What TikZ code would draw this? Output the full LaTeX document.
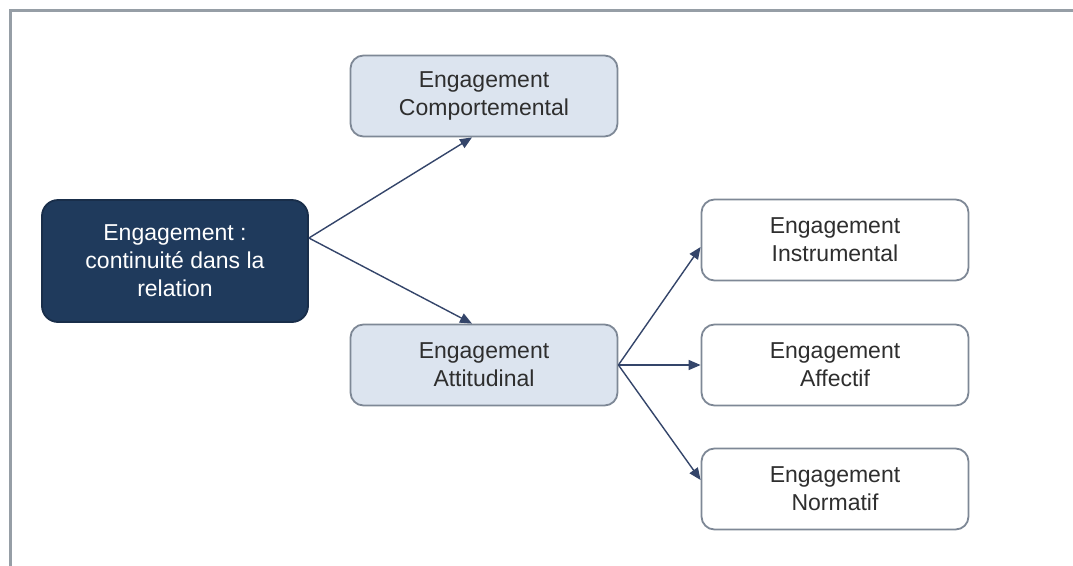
\documentclass[tikz,border=0pt]{standalone}
\usepackage{fontspec}
\setmainfont{Liberation Sans}
\usetikzlibrary{arrows.meta}
\definecolor{navy}{HTML}{1F3A5C}
\definecolor{lightfill}{HTML}{DCE4EF}
\definecolor{boxline}{HTML}{7E8896}
\definecolor{arrowc}{HTML}{34456A}
\definecolor{framec}{HTML}{969EA6}
\definecolor{txt}{HTML}{2E2E2E}
\tikzset{
  box/.style={draw=boxline, line width=1.8pt, rounded corners=13pt, minimum width=267pt, minimum height=81pt,
    align=center, font=\fontsize{23}{28}\selectfont, text=txt, inner sep=0pt},
  lightbox/.style={box, fill=lightfill},
  whitebox/.style={box, fill=white},
  darkbox/.style={box, fill=navy, draw=navy!80!black, text=white, minimum width=266pt, minimum height=122pt, rounded corners=16pt},
  conn/.style={draw=arrowc, line width=1.4pt, -{Triangle[length=12pt,width=10pt]}}
}
\begin{document}
\begin{tikzpicture}[x=1pt,y=-1pt]
\useasboundingbox (0,0) rectangle (1073,565);
\fill[white] (0,0) rectangle (1073,565);
\draw[framec, line width=3pt] (10,570) -- (10,10) -- (1080,10);
\node[darkbox] (root) at (175,261) {Engagement :\\continuité dans la\\relation};
\node[lightbox] (comp) at (484,96) {Engagement\\Comportemental};
\node[lightbox] (att) at (484,365) {Engagement\\Attitudinal};
\node[whitebox] (instr) at (835,240) {Engagement\\Instrumental};
\node[whitebox] (aff) at (835,365) {Engagement\\Affectif};
\node[whitebox] (norm) at (835,489) {Engagement\\Normatif};
\draw[conn] ([yshift=23pt]root.east) -- ([xshift=-12pt]comp.south);
\draw[conn] ([yshift=23pt]root.east) -- ([xshift=-12pt]att.north);
\draw[conn] (att.east) -- ([yshift=-7pt]instr.west);
\draw[conn] (att.east) -- (aff.west);
\draw[conn] (att.east) -- ([yshift=9pt]norm.west);
\end{tikzpicture}
\end{document}
